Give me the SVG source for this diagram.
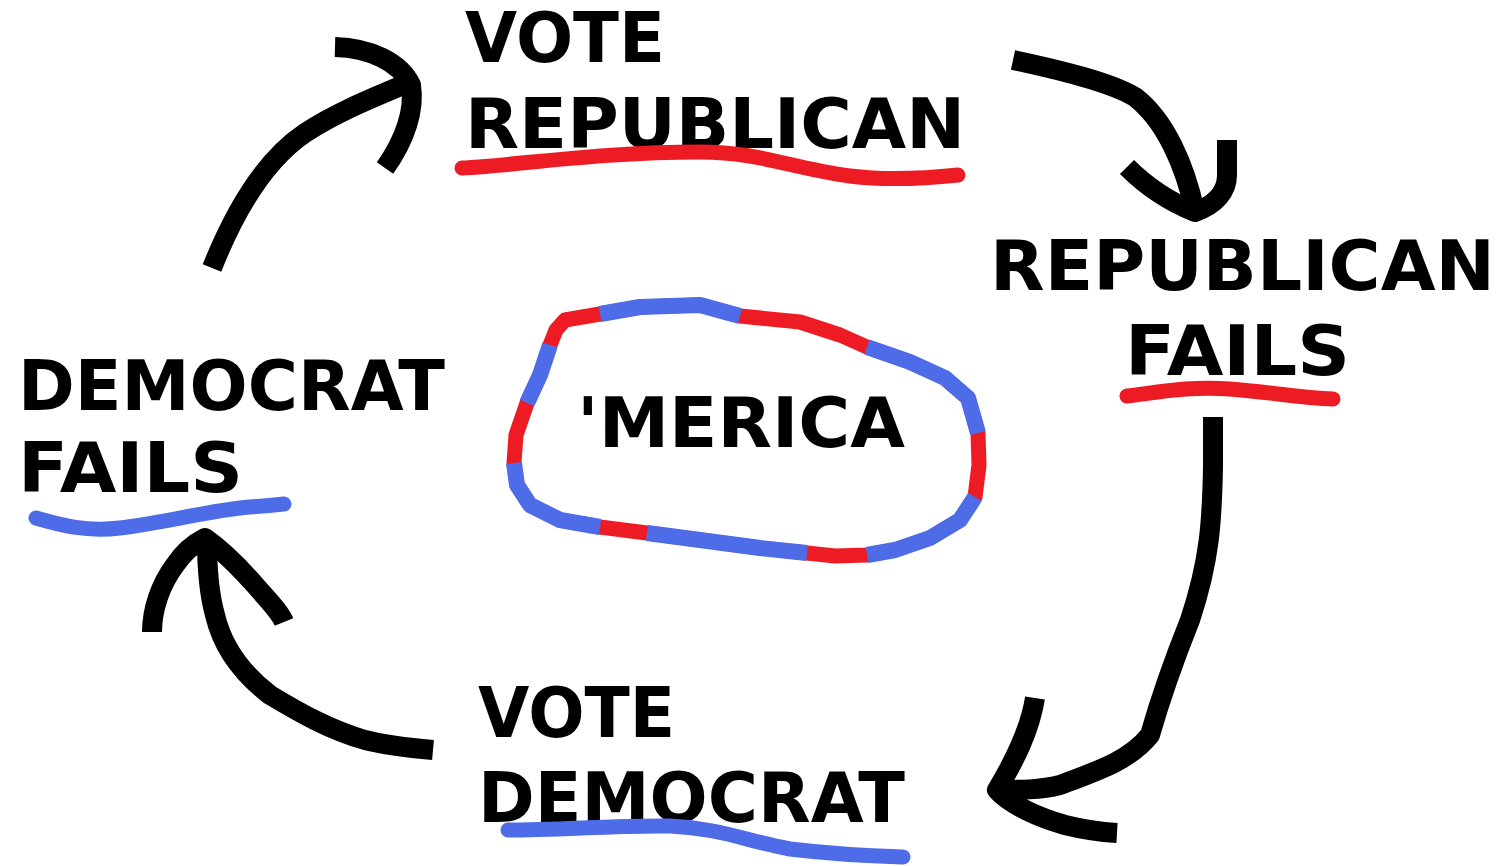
<svg xmlns="http://www.w3.org/2000/svg" width="1505" height="866" viewBox="0 0 1505 866">
<style>
.t{font-family:"DejaVu Sans","Liberation Sans",sans-serif;font-weight:bold;font-size:69px;fill:#000}
.arr{fill:none;stroke:#000;stroke-width:20;stroke-linejoin:round;stroke-linecap:butt}
.red{fill:none;stroke:#ed1c24;stroke-width:15;stroke-linejoin:round;stroke-linecap:round}
.blue{fill:none;stroke:#4f6ce8;stroke-width:15;stroke-linejoin:round;stroke-linecap:round}
.bb{fill:none;stroke:#4f6ce8;stroke-width:16;stroke-linejoin:round;stroke-linecap:butt}
</style>
<rect width="1505" height="866" fill="#fff"/>
<g id="vote-republican">
<text class="t" x="465" y="62" textLength="200" lengthAdjust="spacingAndGlyphs">VOTE</text>
<text class="t" x="465" y="148" textLength="500" lengthAdjust="spacingAndGlyphs">REPUBLICAN</text>
<path class="red" d="M462,168 C520,165 600,152 700,152 C760,152 790,168 850,176 C890,181 930,178 958,175"/>
</g>
<g id="republican-fails">
<text class="t" x="990" y="290" textLength="505" lengthAdjust="spacingAndGlyphs">REPUBLICAN</text>
<text class="t" x="1125" y="375" textLength="225" lengthAdjust="spacingAndGlyphs">FAILS</text>
<path class="red" d="M1127,396 C1160,392 1190,386 1230,389 C1270,392 1300,398 1333,399"/>
</g>
<g id="vote-democrat">
<text class="t" x="478" y="737" textLength="197" lengthAdjust="spacingAndGlyphs">VOTE</text>
<text class="t" x="478" y="822" textLength="427" lengthAdjust="spacingAndGlyphs">DEMOCRAT</text>
<path class="blue" d="M508,830 C560,830 620,825 670,826 C720,828 750,842 790,849 C840,855 870,856 903,857"/>
</g>
<g id="democrat-fails">
<text class="t" x="18" y="410" textLength="427" lengthAdjust="spacingAndGlyphs">DEMOCRAT</text>
<text class="t" x="18" y="492" textLength="225" lengthAdjust="spacingAndGlyphs">FAILS</text>
<path class="blue" d="M36,518 C60,525 85,532 120,528 C170,522 210,510 250,507 C265,506 275,505 284,504"/>
</g>
<g id="merica">
<path class="red" stroke-width="16" d="M550,345 L556,330 L565,320 L600,314 L640,307 L700,305 L740,316 L800,322 L840,335 L867,347 L910,362 L945,378 L968,398 L978,433 L979,465 L975,497 L960,520 L930,538 L895,550 L867,555 L835,556 L807,553 L760,548 L700,540 L647,533 L600,527 L560,520 L530,505 L517,485 L514,463 L516,435 L527,403 L540,375 Z"/>
<path class="bb" d="M600,314 L640,307 L700,305 L740,316"/>
<path class="bb" d="M867,347 L910,362 L945,378 L968,398 L978,433"/>
<path class="bb" d="M975,497 L960,520 L930,538 L895,550 L867,555"/>
<path class="bb" d="M807,553 L760,548 L700,540 L647,533"/>
<path class="bb" d="M600,527 L560,520 L530,505 L517,485 L514,463"/>
<path class="bb" d="M527,403 L540,375 L550,345"/>
<text class="t" x="577" y="447" textLength="328" lengthAdjust="spacingAndGlyphs">'MERICA</text>
</g>
<g id="connectors">
<path class="arr" d="M212,268 C235,210 265,160 305,133 C340,110 380,95 415,80"/>
<path class="arr" d="M335,47 C370,48 400,62 411,85 C415,110 405,140 385,168"/>
<path class="arr" d="M1013,60 C1060,70 1110,82 1135,97 C1165,120 1185,165 1195,212"/>
<path class="arr" d="M1127,167 C1145,185 1170,202 1195,212 C1215,205 1227,192 1227,175 L1227,140"/>
<path class="arr" d="M1213,417 L1213,467 C1212,520 1210,560 1190,620 C1170,670 1160,700 1150,735 C1130,760 1100,770 1060,785 C1040,790 1020,790 998,790"/>
<path class="arr" d="M1035,698 C1030,730 1015,760 997,790 C1010,805 1040,818 1065,825 C1085,830 1100,832 1117,833"/>
<path class="arr" d="M433,750 C410,748 385,745 365,740 C330,730 300,713 270,695 C240,672 222,645 215,615 C208,590 207,565 207,540"/>
<path class="arr" d="M152,632 C152,610 160,585 175,565 C185,550 195,543 205,538 C222,550 240,568 255,585 C268,600 280,612 284,622"/>
</g>
</svg>
